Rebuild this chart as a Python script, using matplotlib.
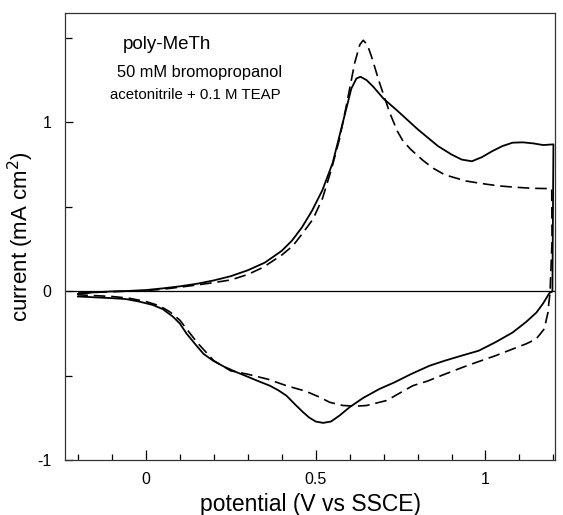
import matplotlib
matplotlib.use("Agg")
import matplotlib.pyplot as plt
import numpy as np

plt.rcParams['font.family'] = ['Liberation Sans', 'DejaVu Sans']

# solid curve (forward sweep then reverse sweep)
solid_up_x = [-0.2, -0.15, -0.1, -0.05, 0.0, 0.05, 0.1, 0.15, 0.2, 0.25, 0.3, 0.35, 0.4, 0.43,
              0.46, 0.49, 0.52, 0.55, 0.575, 0.59, 0.605, 0.62, 0.632, 0.65, 0.67, 0.7, 0.74,
              0.77, 0.8, 0.83, 0.86, 0.9, 0.93, 0.96, 0.99, 1.02, 1.05, 1.08, 1.11, 1.14, 1.17, 1.2]
solid_up_y = [-0.015, -0.005, 0.0, 0.003, 0.008, 0.018, 0.03, 0.045, 0.065, 0.09, 0.125, 0.17, 0.24, 0.3,
              0.38, 0.48, 0.6, 0.76, 0.96, 1.08, 1.2, 1.26, 1.27, 1.25, 1.21, 1.14, 1.07,
              1.015, 0.96, 0.91, 0.86, 0.81, 0.78, 0.77, 0.795, 0.83, 0.86, 0.88, 0.882, 0.876, 0.866, 0.87]
solid_dn_x = [1.197, 1.188, 1.17, 1.15, 1.12, 1.08, 1.03, 0.98, 0.93, 0.88, 0.835, 0.78, 0.73, 0.688,
              0.64, 0.6, 0.57, 0.545, 0.522, 0.5, 0.48, 0.463, 0.44, 0.414, 0.39, 0.365, 0.33, 0.3,
              0.267, 0.23, 0.198, 0.17, 0.149, 0.12, 0.1, 0.08, 0.05, 0.02, -0.02, -0.06, -0.1, -0.15, -0.2]
solid_dn_y = [0.0, -0.01, -0.07, -0.125, -0.18, -0.243, -0.3, -0.351, -0.38, -0.41, -0.44, -0.49, -0.54, -0.577,
              -0.63, -0.685, -0.735, -0.77, -0.778, -0.77, -0.745, -0.715, -0.67, -0.617, -0.585, -0.558, -0.53, -0.505,
              -0.478, -0.445, -0.41, -0.37, -0.321, -0.25, -0.19, -0.15, -0.105, -0.08, -0.06, -0.045, -0.04, -0.035, -0.03]

# dashed curve
dash_up_x = [-0.2, -0.1, 0.0, 0.05, 0.1, 0.15, 0.2, 0.25, 0.3, 0.345, 0.4, 0.433, 0.46, 0.492, 0.52,
             0.546, 0.57, 0.59, 0.615, 0.63, 0.64, 0.652, 0.664, 0.688, 0.718, 0.74, 0.757, 0.78,
             0.816, 0.845, 0.88, 0.943, 1.0, 1.041, 1.09, 1.139, 1.195]
dash_up_y = [-0.01, -0.002, 0.005, 0.013, 0.025, 0.038, 0.052, 0.068, 0.1, 0.142, 0.215, 0.27, 0.34, 0.427, 0.55,
             0.72, 0.9, 1.096, 1.353, 1.46, 1.486, 1.46, 1.392, 1.234, 1.057, 0.95, 0.89, 0.84,
             0.775, 0.73, 0.69, 0.653, 0.635, 0.624, 0.616, 0.61, 0.608]
dash_dn_x = [1.196, 1.19, 1.186, 1.184, 1.173, 1.149, 1.12, 1.08, 1.03, 0.98, 0.933, 0.88, 0.83, 0.786,
             0.74, 0.71, 0.688, 0.65, 0.62, 0.58, 0.541, 0.512, 0.47, 0.414, 0.36, 0.3, 0.25, 0.2,
             0.15, 0.1, 0.07, 0.04, 0.0, -0.05, -0.1, -0.2]
dash_dn_y = [0.3, -0.006, -0.08, -0.124, -0.222, -0.282, -0.31, -0.341, -0.38, -0.415, -0.449, -0.49, -0.53, -0.558,
             -0.61, -0.645, -0.656, -0.675, -0.679, -0.675, -0.656, -0.626, -0.59, -0.558, -0.52, -0.49, -0.47, -0.41,
             -0.30, -0.17, -0.12, -0.085, -0.06, -0.04, -0.03, -0.02]

fig = plt.figure(figsize=(5.63, 5.15), dpi=100)
ax = fig.add_axes([0.1155, 0.106, 0.8705, 0.868])

ax.axhline(0, color="black", lw=0.9)

ax.plot(solid_up_x + solid_dn_x, solid_up_y + solid_dn_y, color="black", lw=1.3)
ax.plot(dash_up_x + dash_dn_x, dash_up_y + dash_dn_y, color="black", lw=1.2, dashes=(7, 3.5))

ax.set_xlim(-0.238, 1.205)
ax.set_ylim(-1, 1.645)

ax.set_xticks([0, 0.5, 1])
ax.set_xticklabels(["0", "0.5", "1"])
ax.set_xticks(np.arange(-0.2, 1.21, 0.1), minor=True)
ax.set_yticks([-1, 0, 1])
ax.set_yticklabels(["-1", "0", "1"])
ax.set_yticks([-0.5, 0.5, 1.5], minor=True)

ax.tick_params(axis="x", which="major", direction="in", length=7, width=0.9, labelsize=11.5, pad=8)
ax.tick_params(axis="x", which="minor", direction="in", length=4, width=0.9)
ax.tick_params(axis="y", which="major", direction="in", length=6, width=0.9, labelsize=11.5, pad=10)
ax.tick_params(axis="y", which="minor", direction="in", length=5, width=0.9)

for s in ax.spines.values():
    s.set_linewidth(0.9)
    s.set_color("#333333")

ax.set_xlabel("potential (V vs SSCE)", fontsize=16.5)
ax.set_ylabel("current (mA cm$^{2}$)", fontsize=16)
ax.xaxis.set_label_coords(0.5, -0.072)
ax.yaxis.set_label_coords(-0.06, 0.5)

ax.text(0.062, 1.46, "poly-MeTh", fontsize=13.5, ha="center", va="center")
ax.text(0.159, 1.295, "50 mM bromopropanol", fontsize=11.8, ha="center", va="center")
ax.text(0.147, 1.16, "acetonitrile + 0.1 M TEAP", fontsize=10.8, ha="center", va="center")

fig.savefig("out.png", dpi=100)
